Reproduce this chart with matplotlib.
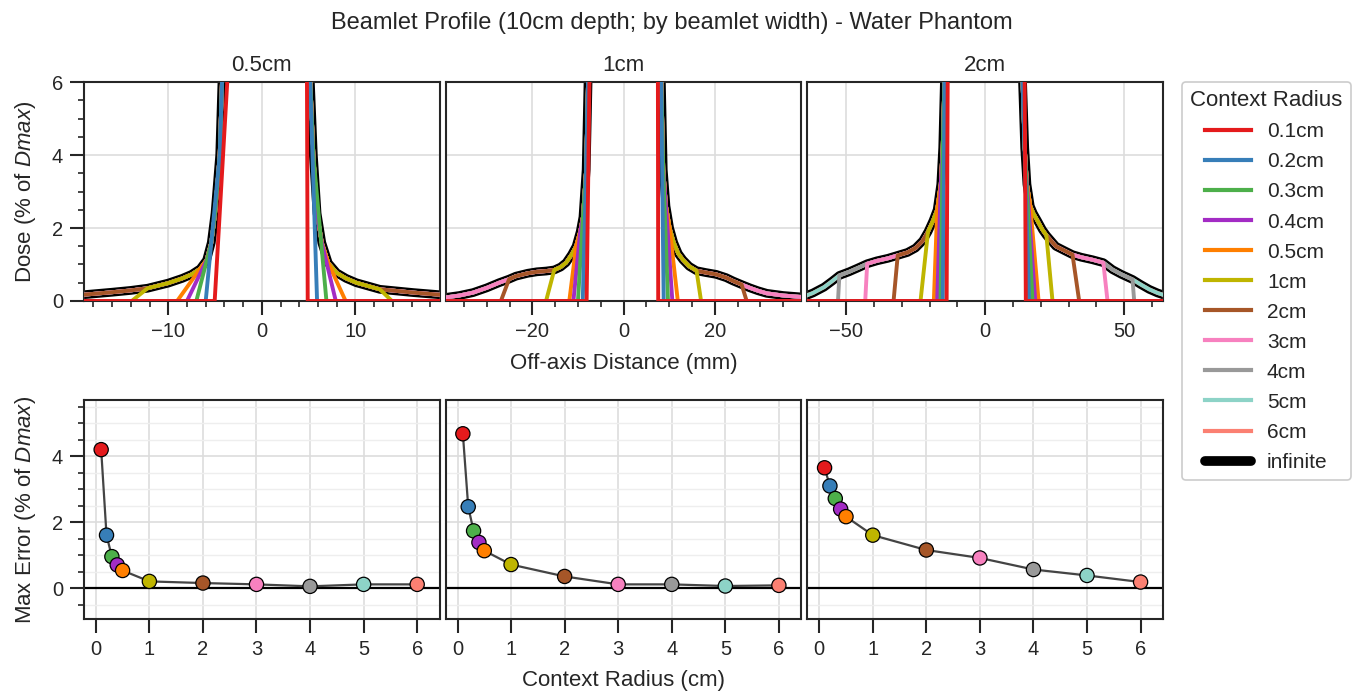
import numpy as np
import matplotlib
matplotlib.use("Agg")
import matplotlib.pyplot as plt
from matplotlib.lines import Line2D
from matplotlib.ticker import MultipleLocator

plt.rcParams['font.family'] = ['Liberation Sans', 'DejaVu Sans']
plt.rcParams['mathtext.fontset'] = 'custom'
plt.rcParams['mathtext.it'] = 'Liberation Sans:italic'
plt.rcParams['mathtext.rm'] = 'Liberation Sans'

# context radii (legend order) and their colours
radius_labels = ['0.1cm', '0.2cm', '0.3cm', '0.4cm', '0.5cm', '1cm',
                 '2cm', '3cm', '4cm', '5cm', '6cm']
radius_cm = [0.1, 0.2, 0.3, 0.4, 0.5, 1, 2, 3, 4, 5, 6]
colors = ['#e41a1c', '#377eb8', '#4daf4a', '#a32cc4', '#ff7f00', '#bfb500',
          '#a65628', '#f781bf', '#999999', '#8dd3c7', '#fb8072']

beamlet_widths = ['0.5cm', '1cm', '2cm']
x_limits = [19, 39, 64]
x_major = [10, 20, 50]
x_minor = [2, 5, 10]

# profile with infinite context radius (off-axis mm, % of Dmax)
x_inf_05 = [-20, -16, -14, -12.2, -10, -8.5, -7.5, -6.6, -5.9, -5.4, -5.0, -4.5,
            -4.2, -2.8, -2.0, 3.5, 4.5, 5.1, 5.5, 5.9, 6.4, 7.1, 8.0, 9.0,
            10.1, 12.6, 16.2, 20]
d_inf_05 = [0.15, 0.24, 0.29, 0.35, 0.49, 0.62, 0.73, 0.88, 1.12, 1.6, 2.4, 4.0,
            6.5, 10, 100, 100, 30, 6.5, 4.0, 2.4, 1.6, 1.04, 0.77, 0.62,
            0.5, 0.32, 0.23, 0.15]

x_inf_1 = [-40, -36, -33, -30, -27.3, -25.1, -23.6, -21, -19, -17, -15.2, -13.8,
           -12.6, -11.4, -10.4, -9.5, -8.9, -8.2, -7.7, -5.5, -3,
           4, 6.5, 8.2, 8.7, 9.3, 10.1, 11.0, 12.0, 13.0, 14.4, 16.0, 18.0,
           20.3, 22.5, 24.0, 25.9, 27.7, 29.5, 31.4, 35, 40]
d_inf_1 = [0.08, 0.15, 0.23, 0.36, 0.5, 0.6, 0.68, 0.76, 0.8, 0.82, 0.85, 0.93,
           1.05, 1.27, 1.5, 1.9, 2.3, 3.6, 6.5, 25, 100,
           100, 100, 6.5, 3.6, 2.6, 2.0, 1.6, 1.3, 1.13, 0.95, 0.83, 0.78,
           0.73, 0.64, 0.55, 0.45, 0.36, 0.28, 0.21, 0.15, 0.10]

x_inf_2 = [-66, -62, -58, -55, -52.5, -49, -46, -42.5, -39, -35, -31.5, -28,
           -25.1, -22.5, -20.6, -18.8, -17.3, -16.0, -15.3, -14.6, -12, -8,
           9, 12.5, 13.3, 14.2, 15.0, 16.2, 17.3, 18.8, 20.6, 22.0, 25.4, 28.5,
           31.4, 34.5, 38.6, 42.5, 45.8, 49, 53.0, 56, 59.0, 62, 66]
d_inf_2 = [0.1, 0.22, 0.38, 0.55, 0.7, 0.8, 0.9, 1.02, 1.1, 1.17, 1.25, 1.33,
           1.45, 1.65, 1.9, 2.2, 2.5, 3.2, 4.2, 6.3, 30, 100,
           100, 30, 6.3, 4.2, 3.2, 2.6, 2.4, 2.2, 1.95, 1.8, 1.5, 1.38,
           1.27, 1.2, 1.13, 1.05, 0.86, 0.73, 0.59, 0.45, 0.32, 0.22, 0.12]

# finite radius: (last point kept left, zero left, last point kept right, zero right)
# None = follows the infinite profile over the whole panel
cuts_05 = [(-2.8, -5.04, 4.5, 4.9), (-4.5, -6.0, 5.1, 5.9), (-5.4, -7.0, 5.5, 6.9),
           (-5.9, -8.0, 6.4, 7.9), (-6.6, -9.05, 7.1, 8.95), (-12.2, -13.9, 12.6, 13.9),
           None, None, None, None, None]
cuts_1 = [(-5.5, -8.1, 6.5, 7.6), (-8.2, -8.95, 8.2, 8.8), (-8.9, -10.0, 8.7, 9.75),
          (-9.5, -11.0, 9.3, 10.7), (-10.4, -11.9, 10.1, 11.9), (-15.2, -17.0, 16.0, 17.0),
          (-25.1, -26.9, 25.9, 27.0), None, None, None, None]
cuts_2 = [(-12, -13.9, 12.5, 14.6), (-14.6, -15.3, 13.3, 15.8), (-15.3, -16.1, 14.2, 17.0),
          (-16.0, -17.3, 15.0, 18.0), (-17.3, -18.5, 16.2, 19.2), (-20.6, -23.3, 22.0, 24.2),
          (-31.5, -33.0, 31.4, 33.8), (-42.5, -43.2, 42.5, 44.0), (-52.5, -53.0, 53.0, 53.6),
          None, None]

# max error (% of Dmax) per context radius
err_05 = [4.2, 1.61, 0.96, 0.71, 0.54, 0.21, 0.16, 0.12, 0.06, 0.12, 0.12]
err_1 = [4.68, 2.47, 1.74, 1.39, 1.14, 0.72, 0.36, 0.12, 0.12, 0.07, 0.09]
err_2 = [3.65, 3.1, 2.72, 2.4, 2.17, 1.61, 1.16, 0.92, 0.57, 0.39, 0.19]

profiles = [(x_inf_05, d_inf_05, cuts_05), (x_inf_1, d_inf_1, cuts_1),
            (x_inf_2, d_inf_2, cuts_2)]
errors = [err_05, err_1, err_2]

INK = '#262626'
plt.rcParams.update({
    'axes.edgecolor': INK, 'axes.linewidth': 1.5,
    'xtick.color': INK, 'ytick.color': INK,
    'xtick.labelcolor': INK, 'ytick.labelcolor': INK,
    'text.color': INK, 'axes.labelcolor': INK,
    'xtick.labelsize': 14.5, 'ytick.labelsize': 14.5,
    'axes.labelsize': 16, 'axes.titlesize': 16,
})


def truncated(x, d, cut):
    x = np.asarray(x, dtype=float)
    d = np.asarray(d, dtype=float)
    if cut is None:
        return x, d
    keep_l, zero_l, keep_r, zero_r = cut
    keep = (x >= keep_l) & (x <= keep_r)
    xs = np.concatenate([[x[0], zero_l], x[keep], [zero_r, x[-1]]])
    ds = np.concatenate([[0, 0], d[keep], [0, 0]])
    return xs, ds


def style_ticks(ax):
    ax.tick_params(which='major', direction='out', length=10, width=1.5, pad=5)
    ax.tick_params(which='minor', direction='out', length=4.5, width=1.2)
    ax.set_axisbelow(True)


fig, axes = plt.subplots(2, 3, figsize=(13.64, 6.94), dpi=100, sharey='row')
fig.subplots_adjust(left=0.0616, right=0.8527, top=0.8818, bottom=0.108,
                    wspace=0.017, hspace=0.4526)

for col in range(3):
    ax = axes[0, col]
    x, d, cuts = profiles[col]
    ax.plot(x, d, color='black', lw=6.3, zorder=2)
    for i in reversed(range(len(radius_cm))):
        xs, ds = truncated(x, d, cuts[i])
        ax.plot(xs, ds, color=colors[i], lw=2.8, zorder=3)
    ax.set_xlim(-x_limits[col], x_limits[col])
    ax.set_ylim(0, 6)
    ax.xaxis.set_major_locator(MultipleLocator(x_major[col]))
    ax.xaxis.set_minor_locator(MultipleLocator(x_minor[col]))
    ax.yaxis.set_major_locator(MultipleLocator(2))
    ax.yaxis.set_minor_locator(MultipleLocator(0.5))
    ax.grid(True, which='major', color='#dddddd', lw=1.2)
    ax.set_title(beamlet_widths[col], pad=8)
    style_ticks(ax)

    ax = axes[1, col]
    ax.axhline(0, color='black', lw=1.6, zorder=2)
    ax.plot(radius_cm, errors[col], color='#444444', lw=1.6, zorder=3)
    ax.scatter(radius_cm, errors[col], c=colors, s=105, edgecolors='black',
               linewidths=0.9, zorder=4)
    ax.set_xlim(-0.22, 6.42)
    ax.set_ylim(-0.93, 5.7)
    ax.xaxis.set_major_locator(MultipleLocator(1))
    ax.yaxis.set_major_locator(MultipleLocator(2))
    ax.yaxis.set_minor_locator(MultipleLocator(0.5))
    ax.grid(True, which='major', color='#dddddd', lw=1.2)
    ax.grid(True, which='minor', axis='y', color='#eeeeee', lw=1.0)
    style_ticks(ax)

for col in (1, 2):
    for row in (0, 1):
        axes[row, col].tick_params(axis='y', which='both', left=False,
                                   labelleft=False)

axes[0, 0].set_ylabel('Dose (% of $Dmax$)', labelpad=10)
axes[1, 0].set_ylabel('Max Error (% of $Dmax$)', labelpad=10)
axes[0, 1].set_xlabel('Off-axis Distance (mm)', labelpad=9)
axes[1, 1].set_xlabel('Context Radius (cm)', labelpad=8)

fig.suptitle('Beamlet Profile (10cm depth; by beamlet width) - Water Phantom',
             fontsize=17, x=0.4927, y=0.983)

handles = [Line2D([], [], color=c, lw=3) for c in colors]
handles.append(Line2D([], [], color='black', lw=7, solid_capstyle='round'))
labels = radius_labels + ['infinite']
leg = fig.legend(handles, labels, title='Context Radius', loc='upper left',
                 bbox_to_anchor=(0.8666, 0.8818), borderaxespad=0,
                 fontsize=15, title_fontsize=16, handlelength=2.2,
                 handletextpad=0.75, labelspacing=0.53, frameon=True,
                 fancybox=True, framealpha=1, edgecolor='#cccccc')
leg.get_frame().set_linewidth(1.2)

fig.savefig('out.png', dpi=100)
